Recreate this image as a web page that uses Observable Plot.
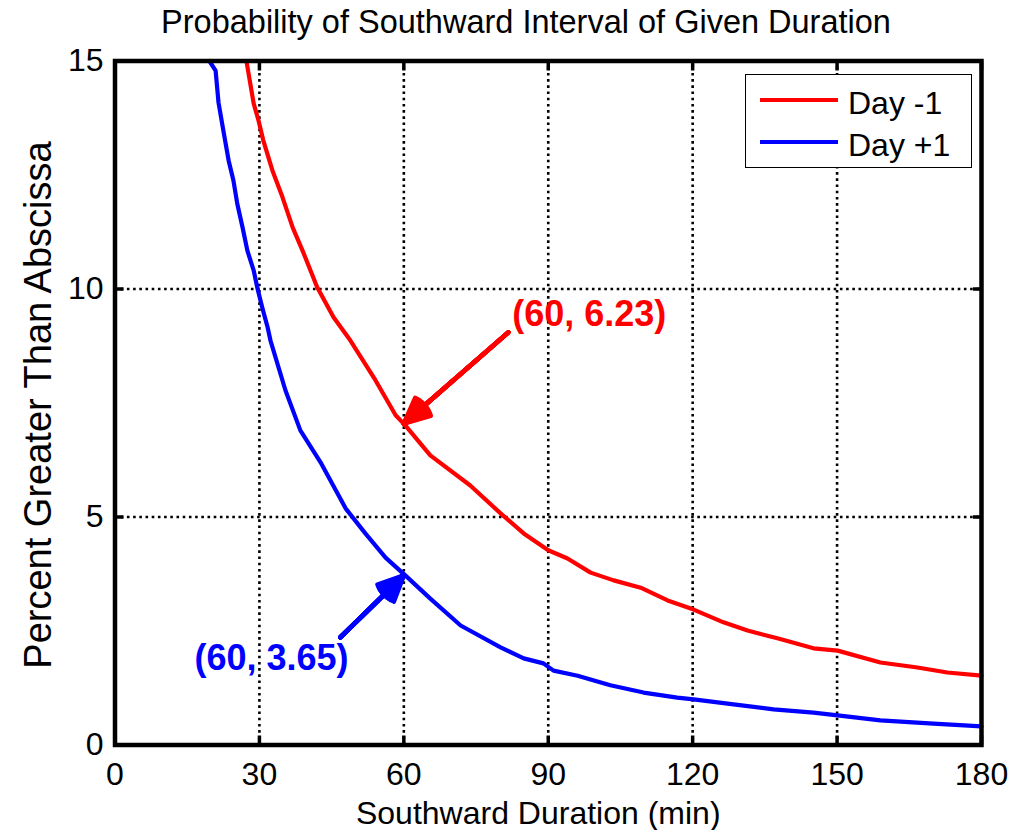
<!DOCTYPE html>
<html>
<head>
<meta charset="utf-8">
<script src="https://cdn.jsdelivr.net/npm/d3@7"></script>
<script src="https://cdn.jsdelivr.net/npm/@observablehq/plot@0.6"></script>
<style>
  body { margin: 0; background: #fff; font-family: "Liberation Sans", Arial, sans-serif; }
  #wrap { position: relative; width: 1024px; height: 830px; overflow: hidden; }
  #title { height: 45px; line-height: 45px; font-size: 32.5px; text-align: center; padding-left: 28px; box-sizing: border-box; width: 1024px; color: #000; white-space: nowrap; }
  #legend { position: absolute; left: 745px; top: 73.5px; width: 227px; height: 94.5px; border: 1.5px solid #000; background: #fff; box-sizing: border-box; }
  .lg-line { position: absolute; left: 14px; width: 78px; height: 4px; }
  .lg-text { position: absolute; left: 102px; font-size: 32px; line-height: 32px; white-space: nowrap; color: #000; }
</style>
</head>
<body>
<div id="wrap">
  <div id="title"></div>
  <div id="chart"></div>
  <div id="legend"></div>
</div>
<script>
// ---- data ----
const titleText = "Probability of Southward Interval of Given Duration";
const xLabel = "Southward Duration (min)";
const yLabel = "Percent Greater Than Abscissa";
const seriesNames = ["Day -1", "Day +1"];
const seriesColors = ["#ff0000", "#0000ff"];

const xTicks = [0, 30, 60, 90, 120, 150, 180];
const yTicks = [0, 5, 10, 15];
const xGrid = [30, 60, 90, 120, 150];
const yGrid = [5, 10];

// Day -1 (red)
const redX = [27.3, 28.8, 29.8, 30.8, 32.7, 34.8, 36.9, 39.2, 42.0, 45.4, 48.9, 54.1, 58.3, 60.3, 65.5, 73.8, 80.1, 84.9, 90.0, 94.0, 98.8, 103.6, 109.2, 114.8, 120.2, 126.4, 131.4, 137.6, 145.1, 150.1, 159.0, 166.7, 172.9, 180];
const redY = [15.0, 14.07, 13.70, 13.26, 12.60, 12.01, 11.35, 10.78, 10.04, 9.38, 8.87, 8.00, 7.23, 7.01, 6.35, 5.69, 5.08, 4.64, 4.27, 4.09, 3.78, 3.61, 3.45, 3.17, 2.97, 2.69, 2.51, 2.34, 2.12, 2.07, 1.81, 1.70, 1.59, 1.52];

// Day +1 (blue)
const blueX = [19.6, 20.9, 21.5, 22.5, 23.6, 24.6, 25.4, 26.5, 27.5, 28.8, 29.6, 30.6, 31.7, 32.3, 35.4, 38.5, 42.7, 47.9, 52.0, 56.2, 60.3, 65.5, 71.8, 80.1, 84.9, 89.0, 91.1, 96.1, 102.9, 109.8, 116.8, 120.2, 128.5, 136.8, 145.1, 150.1, 159.0, 170.0, 180];
const blueY = [15.0, 14.79, 14.09, 13.48, 12.82, 12.38, 11.87, 11.35, 10.84, 10.41, 10.01, 9.59, 9.16, 8.87, 7.78, 6.90, 6.20, 5.19, 4.64, 4.11, 3.72, 3.21, 2.62, 2.14, 1.90, 1.79, 1.63, 1.52, 1.31, 1.15, 1.04, 1.00, 0.89, 0.78, 0.71, 0.65, 0.54, 0.47, 0.41];

// annotations: label text, label anchor (x,y), arrow tail (x1,y1) -> tip (x2,y2)
const annLabels = ["(60, 6.23)", "(60, 3.65)"];
const annTextX = [82.5, 16.5];
const annTextY = [9.45, 1.89];
const arrowX1 = [81.7, 46.8];
const arrowY1 = [9.05, 2.36];
const arrowX2 = [60, 60];
const arrowY2 = [7.05, 3.72];

// ---- build tables ----
const lines = [
  ...redX.map((x, i) => ({x, y: redY[i], s: seriesNames[0]})),
  ...blueX.map((x, i) => ({x, y: blueY[i], s: seriesNames[1]}))
];
const ann = annLabels.map((t, i) => ({
  t, tx: annTextX[i], ty: annTextY[i],
  x1: arrowX1[i], y1: arrowY1[i], x2: arrowX2[i], y2: arrowY2[i],
  c: seriesColors[i]
}));

document.getElementById("title").textContent = titleText;

const font = "'Liberation Sans', Arial, sans-serif";
const tickStyle = {stroke: "#000", strokeWidth: 3.5};

// filled-looking arrowheads: a fan of chevrons with decreasing opening angle
const headAngles = [50, 42, 34, 26, 18, 10, 3];
const arrowMarks = headAngles.map(a => Plot.arrow(ann, {
  x1: "x1", y1: "y1", x2: "x2", y2: "y2",
  stroke: d => d.c, strokeWidth: 4.5, headAngle: a, headLength: 28 * 1.5 / 4.5
}));

const chart = Plot.plot({
  width: 1024,
  height: 785,
  marginTop: 15.5,
  marginBottom: 85.5,
  marginLeft: 114.5,
  marginRight: 43,
  style: {fontFamily: font, fontSize: "32px", color: "#000", background: "#fff", overflow: "visible"},
  x: {domain: [0, 180]},
  y: {domain: [0, 15]},
  color: {domain: seriesNames, range: seriesColors},
  marks: [
    Plot.gridX(xGrid, {stroke: "#000", strokeOpacity: 1, strokeWidth: 2.6, strokeDasharray: "2.6,3.6"}),
    Plot.gridY(yGrid, {stroke: "#000", strokeOpacity: 1, strokeWidth: 2.6, strokeDasharray: "2.6,3.6"}),
    Plot.line(lines, {x: "x", y: "y", z: "s", stroke: "s", strokeWidth: 4.2, strokeLinejoin: "round"}),
    Plot.axisX(xTicks, {anchor: "bottom", tickSize: 0, tickPadding: 17.5, label: null, fontSize: 32}),
    Plot.axisY(yTicks, {anchor: "left", tickSize: 0, tickPadding: 11.5, label: null, fontSize: 32}),
    Plot.axisX(xTicks, {anchor: "bottom", tickSize: -9, tickFormat: () => "", label: null, ...tickStyle}),
    Plot.axisX(xTicks, {anchor: "top", tickSize: -9, tickFormat: () => "", label: null, ...tickStyle}),
    Plot.axisY(yTicks, {anchor: "left", tickSize: -9, tickFormat: () => "", label: null, ...tickStyle}),
    Plot.axisY(yTicks, {anchor: "right", tickSize: -9, tickFormat: () => "", label: null, ...tickStyle}),
    Plot.frame({stroke: "#000", strokeWidth: 4.5}),
    ...arrowMarks,
    Plot.text(ann, {x: "tx", y: "ty", text: "t", fill: d => d.c, textAnchor: "start", fontWeight: "bold", fontSize: 36}),
    Plot.text([xLabel], {frameAnchor: "bottom", text: d => d, dx: -10, dy: 78.5, lineAnchor: "bottom", textAnchor: "middle", fontSize: 32}),
    Plot.text([yLabel], {frameAnchor: "left", text: d => d, rotate: -90, dx: -64, dy: 2, lineAnchor: "bottom", textAnchor: "middle", fontSize: 38})
  ]
});
document.getElementById("chart").appendChild(chart);

// legend
const lg = document.getElementById("legend");
seriesNames.forEach((name, i) => {
  const ln = document.createElement("div");
  ln.className = "lg-line";
  ln.style.top = (23.5 + 42 * i) + "px";
  ln.style.background = seriesColors[i];
  lg.appendChild(ln);
  const tx = document.createElement("div");
  tx.className = "lg-text";
  tx.style.top = (12 + 42 * i) + "px";
  tx.textContent = name;
  lg.appendChild(tx);
});
</script>
</body>
</html>
